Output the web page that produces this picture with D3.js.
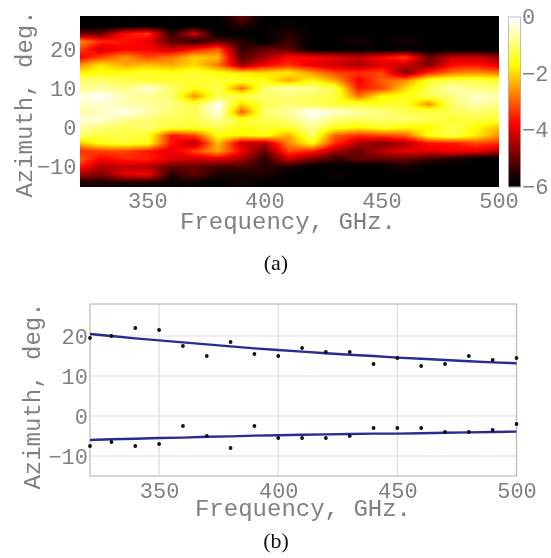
<!DOCTYPE html>
<html>
<head>
<meta charset="utf-8">
<script src="https://cdn.jsdelivr.net/npm/d3@7"></script>
<style>
  html, body { margin: 0; padding: 0; background: #fff; }
  #wrap { position: relative; width: 551px; height: 558px; overflow: hidden; }
  canvas { position: absolute; filter: blur(0.6px); }
  svg { position: absolute; left: 0; top: 0; filter: blur(0.4px); }
  .mono { font-family: "Liberation Mono", monospace; fill: #808080; }
  .cap { font-family: "Liberation Serif", serif; font-size: 22px; fill: #111; }
</style>
</head>
<body>
<div id="wrap"><svg id="chart" width="551" height="558"></svg></div>
<script>
const frequencies = [321, 330, 340, 350, 360, 370, 380, 390, 400, 410, 420, 430, 440, 450, 460, 470, 480, 490, 500];
const azimuths = [28, 26, 24, 22, 20, 18, 16, 14, 12, 10, 8, 6, 4, 2, 0, -2, -4, -6, -8, -10, -12, -14];

// log level, one row per azimuth
const levels = [
  [-6, -6, -6, -6, -6, -6, -6, -5, -6, -6, -6, -6, -6, -6, -6, -6, -6, -6, -6],
  [-6, -6, -6, -6, -6, -6, -6, -5.5, -6, -5.8, -6, -6, -6, -6, -6, -6, -6, -6, -6],
  [-5, -5, -3.7, -3.3, -5.5, -4.1, -6, -6, -6, -5.5, -6, -6, -6, -6, -6, -6, -6, -6, -6],
  [-2.6, -3.4, -3.6, -3.9, -5, -5.5, -5, -5.5, -6, -5.3, -6, -6, -5.6, -6, -5.6, -6, -6, -6, -6],
  [-3.2, -4.2, -3.8, -3.8, -4.2, -3.6, -3, -5.4, -5, -5, -6, -6, -6, -6, -6, -6, -6, -6, -6],
  [-3.8, -3.2, -2.6, -3.2, -2.8, -2.1, -2.3, -5.2, -4.5, -3.7, -3.8, -4, -4.2, -3.8, -3.2, -5, -4.2, -4.2, -4.6],
  [-2.6, -1.9, -2.4, -2.2, -2.4, -2, -2.8, -4.6, -3.8, -3.4, -3.9, -4.2, -4.4, -4, -4.2, -4.8, -3.7, -3.6, -4],
  [-1.8, -1.6, -1.6, -1.4, -1.6, -1.4, -1.6, -1.9, -2, -1.8, -2.5, -3.2, -3.4, -3.2, -4.8, -3.4, -2.8, -2.6, -2.8],
  [-1, -1, -1.2, -1.4, -1.4, -1.4, -1.4, -1.4, -1.6, -2.4, -1.7, -2.4, -3.8, -3, -2.6, -1.4, -1.2, -1.2, -1.4],
  [-0.8, -0.7, -0.9, -0.3, -1, -1.6, -1.2, -2.8, -1, -0.6, -0.8, -1.2, -3.6, -3.2, -2, -1.2, -0.6, -0.9, -1],
  [-0.3, -0.1, -0.6, -0.8, -1, -2.6, -1.2, -1.2, -1, -1, -1.1, -1.3, -2.8, -1.7, -1.6, -1.2, -0.9, -0.4, -0.6],
  [-0.5, -0.4, -0.6, -0.7, -0.9, -1.3, -0.2, -2, -1.2, -1, -1.2, -1.4, -1.4, -1.5, -1.4, -2.6, -1, -0.6, -0.8],
  [-0.7, -0.5, -0.2, -0.6, -1, -1.2, -0.2, -3, -1, -0.7, -0.1, -0.4, -0.7, -0.9, -1.2, -1.3, -1.2, -1, -1.2],
  [-0.3, -0.4, -0.8, -1, -1.2, -1.2, -0.8, -1.4, -1.2, -1, -0.4, -1, -1.1, -1, -1, -1.2, -1.4, -1.3, -1.4],
  [-0.7, -1, -1.2, -1, -1.3, -1.4, -1.2, -1.6, -1.4, -1.4, -0.8, -1.5, -1.8, -1.5, -1.7, -1.7, -1.2, -1.7, -2.2],
  [-1, -1.3, -1.2, -1.4, -3.6, -3.2, -1.6, -1.8, -1.6, -2.4, -1, -3, -3.4, -3.2, -3, -1.6, -1.2, -1.8, -2.6],
  [-2.2, -1.6, -1.4, -1.6, -3.6, -4.4, -2.2, -4.2, -4.4, -2.7, -1.6, -3.4, -4.4, -4.8, -4.4, -3.6, -3.6, -3.2, -3.4],
  [-3.4, -3.2, -3.2, -3.6, -4, -3.2, -2.4, -3.8, -5, -3.2, -3.5, -4.5, -5, -4.3, -3.9, -4, -3.8, -3.9, -4.4],
  [-3, -3.8, -3.5, -3.5, -4, -4.2, -4, -4.5, -5.5, -4.2, -4.8, -5.4, -5, -5, -5, -5.3, -5.6, -6, -6],
  [-3.6, -4.4, -4.2, -4.4, -5, -5, -5.3, -5.2, -5.5, -5.5, -6, -6, -6, -6, -5.6, -6, -6, -6, -6],
  [-4.5, -4.8, -4, -3.8, -5.5, -5, -5.6, -5.7, -5.5, -6, -6, -5.8, -6, -6, -6, -6, -6, -6, -6],
  [-5.6, -5.6, -5.6, -5.6, -5.8, -5.8, -6, -5.7, -6, -6, -6, -6, -6, -6, -6, -6, -6, -6, -6]
];

// panel (b)
const upperPeaks = [19.5, 20, 22, 21.5, 17.5, 15, 18.5, 15.5, 15, 17, 16, 16, 13, 14.5, 12.5, 13, 15, 14, 14.5];
const lowerPeaks = [-7.5, -6.5, -7.5, -7, -2.5, -5, -8, -2.5, -5.5, -5.5, -5.5, -5, -3, -3, -3, -4, -4, -3.5, -2];
const upperFit = [20.5, 20.0, 19.4, 18.9, 18.4, 17.9, 17.4, 16.9, 16.5, 16.1, 15.7, 15.3, 15.0, 14.6, 14.3, 14.0, 13.7, 13.4, 13.2];
const lowerFit = [-6, -5.8, -5.7, -5.5, -5.4, -5.2, -5.1, -4.9, -4.8, -4.7, -4.6, -4.5, -4.4, -4.4, -4.3, -4.2, -4.1, -4, -3.9];

const freqTicks = [350, 400, 450, 500];
const azTicks = [-10, 0, 10, 20];
const barTicks = [0, -2, -4, -6];

const svg = d3.select("#chart");
const grey = "#808080";

const hot = d3.scaleLinear()
  .domain([-6, -5.6, -3.75, -1.7, -0.1])
  .range(["#000", "#1a0000", "#f00", "#ff0", "#fff"])
  .clamp(true);

// panel (a) scales
const xA = d3.scaleLinear().domain([321, 500]).range([79.5, 498.5]);
const yA = d3.scaleLinear().domain([28.5, -15]).range([16, 186.5]);
const barY = d3.scaleLinear().domain([0, -6]).range([17, 186.5]);

function levelAt(f, az) {
  const i = Math.min(d3.bisectRight(frequencies, f) - 1, frequencies.length - 2);
  const t = (f - frequencies[i]) / (frequencies[i + 1] - frequencies[i]);
  const rowPos = (azimuths[0] - az) / 2;
  const r0 = Math.max(0, Math.min(Math.floor(rowPos), azimuths.length - 2));
  const u = Math.max(0, Math.min(1, rowPos - r0));
  const a = levels[r0][i] * (1 - t) + levels[r0][i + 1] * t;
  const b = levels[r0 + 1][i] * (1 - t) + levels[r0 + 1][i + 1] * t;
  return a * (1 - u) + b * u;
}

const px0 = xA.range()[0], py0 = yA.range()[0];
const w = Math.round(xA.range()[1] - px0), h = Math.round(yA.range()[1] - py0);
const canvas = d3.select("#wrap").insert("canvas", "svg")
  .attr("width", w).attr("height", h)
  .style("left", px0 + "px").style("top", py0 + "px");
const ctx = canvas.node().getContext("2d");
for (let py = 0; py < h; py++) {
  for (let px = 0; px < w; px++) {
    ctx.fillStyle = hot(levelAt(xA.invert(px0 + px + 0.5), yA.invert(py0 + py + 0.5)));
    ctx.fillRect(px, py, 1, 1);
  }
}

// colour bar, one strip per pixel row
svg.append("g").selectAll("rect")
  .data(d3.range(barY.range()[0], barY.range()[1]))
  .join("rect")
  .attr("x", 508.5).attr("width", 12)
  .attr("y", d => d).attr("height", 1.2)
  .attr("fill", d => hot(barY.invert(d)));
svg.append("rect")
  .attr("x", 508.5).attr("y", 17).attr("width", 12).attr("height", 169.5)
  .attr("fill", "none").attr("stroke", "#999").attr("stroke-width", 0.6);

function styleAxis(g, size) {
  g.select(".domain").remove();
  g.selectAll("line").remove();
  g.selectAll("text").attr("class", "mono").style("font-size", size + "px").attr("fill", grey);
}

svg.append("g")
  .attr("transform", `translate(0,186.5)`)
  .call(d3.axisBottom(xA).tickValues(freqTicks).tickSize(0).tickPadding(6))
  .call(styleAxis, 22);
svg.append("g")
  .attr("transform", `translate(79.5,0)`)
  .call(d3.axisLeft(yA).tickValues(azTicks).tickSize(0).tickPadding(3))
  .call(styleAxis, 22);

svg.append("g").selectAll("text")
  .data(barTicks)
  .join("text")
  .attr("class", "mono")
  .attr("x", 522)
  .attr("y", d => barY(d) + 7)
  .style("font-size", "22px")
  .text(d => d === 0 ? "0" : "\u2212" + Math.abs(d));

svg.append("text").attr("class", "mono")
  .attr("x", 288).attr("y", 229).attr("text-anchor", "middle")
  .style("font-size", "24px").text("Frequency, GHz.");
svg.append("text").attr("class", "mono")
  .attr("transform", "translate(32,104) rotate(-90)").attr("text-anchor", "middle")
  .style("font-size", "24px").text("Azimuth, deg.");
svg.append("text").attr("class", "cap")
  .attr("x", 276).attr("y", 270).attr("text-anchor", "middle").text("(a)");

// panel (b)
const xB = d3.scaleLinear().domain([321, 500]).range([90, 516.5]);
const yB = d3.scaleLinear().domain([28, -15]).range([304, 476]);

svg.append("g").selectAll("line")
  .data(freqTicks)
  .join("line")
  .attr("x1", d => xB(d)).attr("x2", d => xB(d))
  .attr("y1", 304).attr("y2", 476)
  .attr("stroke", "#ddd").attr("stroke-width", 1.2);
svg.append("g").selectAll("line")
  .data(azTicks)
  .join("line")
  .attr("x1", 90).attr("x2", 516.5)
  .attr("y1", d => yB(d)).attr("y2", d => yB(d))
  .attr("stroke", "#e2e2e2").attr("stroke-width", 1.2);
svg.append("rect")
  .attr("x", 90).attr("y", 304).attr("width", 426.5).attr("height", 172)
  .attr("fill", "none").attr("stroke", "#bbb").attr("stroke-width", 1.2);

const fitLine = d3.line().x((d, i) => xB(frequencies[i])).y(d => yB(d));
[upperFit, lowerFit].forEach(fit => {
  svg.append("path")
    .attr("d", fitLine(fit))
    .attr("fill", "none")
    .attr("stroke", "#2b2b90")
    .attr("stroke-width", 2.4);
});
[upperPeaks, lowerPeaks].forEach(peaks => {
  svg.append("g").selectAll("circle")
    .data(peaks)
    .join("circle")
    .attr("cx", (d, i) => xB(frequencies[i]))
    .attr("cy", d => yB(d))
    .attr("r", 1.9)
    .attr("fill", "#111");
});

svg.append("g")
  .attr("transform", `translate(0,476)`)
  .call(d3.axisBottom(xB).tickValues(freqTicks).tickSize(0).tickPadding(6))
  .call(styleAxis, 22);
svg.append("g")
  .attr("transform", `translate(90,0)`)
  .call(d3.axisLeft(yB).tickValues(azTicks).tickSize(0).tickPadding(2))
  .call(styleAxis, 22);

svg.append("text").attr("class", "mono")
  .attr("x", 303).attr("y", 516).attr("text-anchor", "middle")
  .style("font-size", "24px").text("Frequency, GHz.");
svg.append("text").attr("class", "mono")
  .attr("transform", "translate(40,396) rotate(-90)").attr("text-anchor", "middle")
  .style("font-size", "24px").text("Azimuth, deg.");
svg.append("text").attr("class", "cap")
  .attr("x", 276).attr("y", 548).attr("text-anchor", "middle").text("(b)");
</script>
</body>
</html>
